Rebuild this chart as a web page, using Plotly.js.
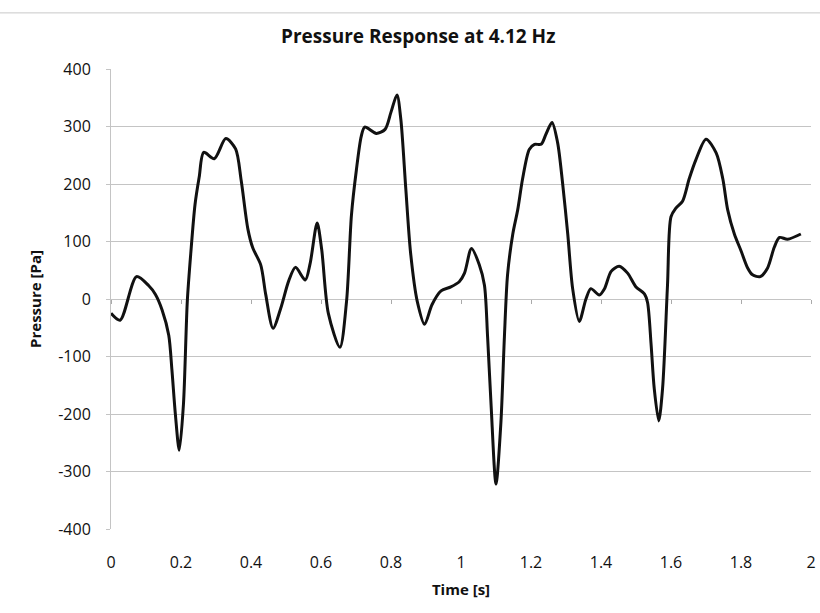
<!DOCTYPE html>
<html>
<head>
<meta charset="utf-8">
<script src="https://cdn.plot.ly/plotly-3.0.1.min.js"></script>
<style>html,body{margin:0;padding:0;background:#fff}#chart{width:820px;height:613px}</style>
</head>
<body>
<div id="chart"></div>
<script>
// Time [s]
const timeS = [0, 0.026, 0.073, 0.108, 0.127, 0.146, 0.165, 0.174, 0.184, 0.195, 0.207, 0.218, 0.228, 0.24, 0.252, 0.265, 0.295, 0.328, 0.356, 0.372, 0.391, 0.405, 0.428, 0.442, 0.463, 0.485, 0.508, 0.527, 0.555, 0.569, 0.589, 0.602, 0.621, 0.654, 0.673, 0.687, 0.701, 0.715, 0.725, 0.758, 0.783, 0.8, 0.817, 0.828, 0.842, 0.856, 0.875, 0.896, 0.917, 0.943, 0.971, 0.995, 1.01, 1.03, 1.052, 1.067, 1.076, 1.086, 1.1, 1.114, 1.124, 1.133, 1.148, 1.162, 1.176, 1.195, 1.21, 1.229, 1.243, 1.26, 1.276, 1.29, 1.305, 1.319, 1.338, 1.357, 1.371, 1.395, 1.41, 1.429, 1.452, 1.476, 1.5, 1.524, 1.533, 1.543, 1.552, 1.565, 1.576, 1.59, 1.6, 1.614, 1.633, 1.652, 1.671, 1.7, 1.729, 1.748, 1.762, 1.781, 1.8, 1.819, 1.833, 1.855, 1.876, 1.895, 1.91, 1.933, 1.971];
// Pressure [Pa]
const pressurePa = [-25, -37, 39, 23, 8, -19, -63, -123, -201, -263, -183, -4, 80, 164, 212, 255, 244, 279, 261, 206, 122, 89, 59, 8, -51, -16, 32, 55, 33, 62, 132, 86, -25, -84, -4, 146, 224, 283, 299, 288, 295, 325, 355, 313, 194, 80, -4, -44, -10, 14, 21, 30, 45, 88, 60, 24, -66, -185, -322, -215, -66, 42, 113, 155, 209, 260, 269, 269, 287, 307, 272, 203, 113, 18, -39, 0, 18, 7, 18, 48, 57, 45, 21, 9, -6, -78, -155, -212, -155, 24, 143, 158, 170, 209, 242, 278, 254, 209, 155, 113, 84, 54, 42, 39, 54, 90, 107, 104, 113];

const xTicks = [0, 0.2, 0.4, 0.6, 0.8, 1, 1.2, 1.4, 1.6, 1.8, 2];
const xTickLabels = ['0', '0.2', '0.4', '0.6', '0.8', '1', '1.2', '1.4', '1.6', '1.8', '2'];
const yTicks = [-400, -300, -200, -100, 0, 100, 200, 300, 400];
const yTickLabels = ['-400', '-300', '-200', '-100', '0', '100', '200', '300', '400'];

const font = 'Open Sans, Lato, DejaVu Sans, sans-serif';

const trace = {
  x: timeS, y: pressurePa, type: 'scatter', mode: 'lines',
  line: {color: '#111', width: 3, shape: 'spline', smoothing: 0.8},
  hoverinfo: 'skip', showlegend: false
};

const layout = {
  width: 820, height: 613,
  paper_bgcolor: '#fff', plot_bgcolor: '#fff',
  margin: {l: 111, r: 9, t: 69, b: 84},
  title: {text: '<b>Pressure Response at 4.12 Hz</b>', font: {family: font, size: 19, color: '#111'}, x: 0.51, xanchor: 'center', y: 0.94, yanchor: 'middle'},
  xaxis: {
    range: [0, 2], tickvals: xTicks, ticktext: xTickLabels,
    showgrid: false, zeroline: false, showline: false, ticks: '',
    tickfont: {family: font, size: 16, color: '#111'}, ticklabelstandoff: 22,
    title: {text: '<b>Time [s]</b>', font: {family: font, size: 15, color: '#111'}, standoff: 12}
  },
  xaxis2: {
    range: [0, 2], tickvals: xTicks, overlaying: 'x', anchor: 'free', position: 0.5, side: 'bottom',
    showgrid: false, zeroline: false, showline: false, ticks: 'outside', ticklen: 4, tickcolor: '#aaa', tickwidth: 1,
    showticklabels: false
  },
  yaxis: {
    range: [-400, 400], tickvals: yTicks, ticktext: yTickLabels,
    showgrid: true, gridcolor: '#c4c4c4', gridwidth: 1, zeroline: false,
    showline: true, linecolor: '#c4c4c4', linewidth: 1, ticks: 'outside', ticklen: 4, tickcolor: '#c4c4c4',
    tickfont: {family: font, size: 16, color: '#111'}, ticklabelstandoff: 12,
    title: {text: '<b>Pressure [Pa]</b>', font: {family: font, size: 15, color: '#111'}, standoff: 12}
  },
  shapes: [
    {type: 'line', xref: 'paper', yref: 'paper', x0: -0.16, x1: 1.02, y0: 1.122, y1: 1.122, line: {color: '#c8c8c8', width: 1}}
  ]
};

const trace2 = {x: [0, 2], y: [0, 0], xaxis: 'x2', yaxis: 'y', type: 'scatter', mode: 'lines', line: {width: 0, color: 'rgba(0,0,0,0)'}, hoverinfo: 'skip', showlegend: false};

Plotly.newPlot('chart', [trace2, trace], layout, {displayModeBar: false, staticPlot: true});
</script>
</body>
</html>
